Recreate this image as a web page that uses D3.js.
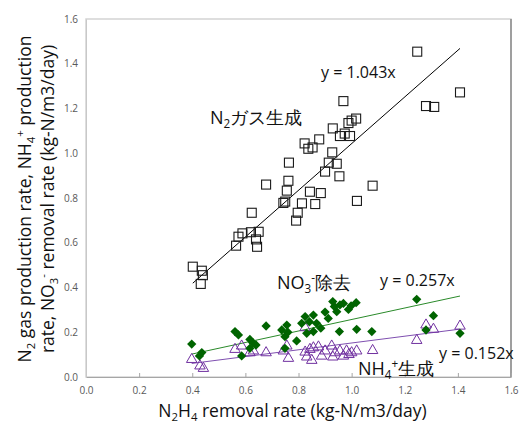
<!DOCTYPE html>
<html>
<head>
<meta charset="utf-8">
<script src="https://cdn.jsdelivr.net/npm/d3@7"></script>
<style>
  body { margin: 0; background: #fff; }
  text { font-family: "Open Sans", "Noto Sans", sans-serif; }
</style>
</head>
<body>
<div class="chart"></div>
<script>
// N2 gas production (open squares)
var n2X = [1.247, 1.408, 1.280, 1.311, 0.969, 1.017, 1.000, 0.988, 0.929, 0.974, 0.994, 0.956,
    0.823, 0.878, 0.853, 0.837, 0.927, 0.914, 0.944, 0.764, 0.900, 0.954, 0.762, 0.678, 0.756,
    0.843, 0.884, 1.079, 1.020, 0.743, 0.750, 0.813, 0.863, 0.797, 0.791, 0.624, 0.650, 0.621,
    0.589, 0.574, 0.565, 0.644, 0.640, 0.402, 0.436, 0.440, 0.432]
var n2Y = [1.454, 1.272, 1.211, 1.207, 1.233, 1.155, 1.146, 1.135, 1.111, 1.088, 1.077, 1.077,
    1.044, 1.062, 1.026, 1.020, 1.004, 0.958, 0.953, 0.958, 0.918, 0.897, 0.877, 0.860, 0.833,
    0.828, 0.822, 0.855, 0.787, 0.778, 0.784, 0.776, 0.773, 0.734, 0.699, 0.734, 0.649, 0.647,
    0.642, 0.627, 0.587, 0.582, 0.615, 0.493, 0.475, 0.455, 0.416]

// NO3- removal (filled diamonds)
var no3X = [1.245, 1.308, 1.280, 1.408, 1.017, 0.969, 0.988, 0.956, 0.929, 0.944, 0.998, 0.912,
    0.856, 0.825, 0.841, 0.812, 0.868, 0.884, 0.856, 0.831, 0.954, 1.019, 1.076, 0.756, 0.737,
    0.749, 0.793, 0.760, 0.749, 0.678, 0.561, 0.574, 0.617, 0.628, 0.640, 0.617, 0.586, 0.398,
    0.436, 0.427, 0.935, 0.900]
var no3Y = [0.347, 0.274, 0.210, 0.195, 0.332, 0.329, 0.302, 0.322, 0.337, 0.292, 0.318, 0.262,
    0.277, 0.270, 0.247, 0.240, 0.240, 0.218, 0.203, 0.195, 0.203, 0.213, 0.203, 0.232, 0.210,
    0.180, 0.161, 0.200, 0.128, 0.228, 0.203, 0.188, 0.168, 0.153, 0.143, 0.128, 0.094, 0.147,
    0.109, 0.094, 0.315, 0.290]

// NH4+ production (open triangles)
var nh4X = [1.408, 1.280, 1.308, 1.245, 1.079, 1.019, 1.000, 0.981, 0.956, 0.938, 0.925, 0.900,
    0.875, 0.856, 0.843, 0.825, 0.831, 0.850, 0.887, 0.929, 0.969, 0.990, 0.756, 0.743, 0.762,
    0.825, 0.678, 0.561, 0.586, 0.630, 0.617, 0.398, 0.429, 0.442]
var nh4Y = [0.232, 0.237, 0.218, 0.168, 0.123, 0.121, 0.113, 0.121, 0.121, 0.113, 0.143, 0.121,
    0.139, 0.135, 0.128, 0.116, 0.094, 0.079, 0.098, 0.094, 0.098, 0.105, 0.143, 0.121, 0.088,
    0.225, 0.113, 0.128, 0.143, 0.121, 0.113, 0.083, 0.054, 0.043]

var slopes = [1.043, 0.257, 0.152]
var xTicks = [0, 0.2, 0.4, 0.6, 0.8, 1.0, 1.2, 1.4, 1.6]
var yTicks = [0, 0.2, 0.4, 0.6, 0.8, 1.0, 1.2, 1.4, 1.6]

var svgWidth = 521
var svgHeight = 423

var margin = {
    top: 19,
    bottom: 46,
    right: 10,
    left: 86
}

var height = svgHeight - margin.top - margin.bottom
var width = svgWidth - margin.left - margin.right

var svg = d3.select('.chart')
    .append('svg')
    .attr('width', svgWidth)
    .attr('height', svgHeight)

var chartGroup = svg.append('g')
    .attr('transform', `translate(${margin.left}, ${margin.top})`)

var x = d3.scaleLinear().domain([0, 1.6]).range([0, width])
var y = d3.scaleLinear().domain([0, 1.6]).range([height, 0])

// plot area border
chartGroup.append('rect')
    .attr('width', width)
    .attr('height', height)
    .attr('fill', 'none')
    .attr('stroke', '#d4d4d4')
    .attr('stroke-width', 1.5)
chartGroup.append('line')
    .attr('x1', width).attr('x2', width)
    .attr('y1', 0).attr('y2', height)
    .attr('stroke', '#8a8a8a')
    .attr('stroke-width', 1.5)

// X axis
var xAxis = chartGroup.append('g')
    .attr('transform', `translate(0, ${height})`)
    .call(d3.axisBottom(x).tickValues(xTicks).tickFormat(d3.format('.1f'))
        .tickSizeInner(-4).tickSizeOuter(0).tickPadding(10))
xAxis.select('.domain').attr('stroke', '#a6a6a6')
xAxis.selectAll('.tick line').attr('stroke', '#a6a6a6')
xAxis.selectAll('text').attr('fill', '#595959').attr('font-size', '10px')

// Y axis
var yAxis = chartGroup.append('g')
    .call(d3.axisLeft(y).tickValues(yTicks).tickFormat(d3.format('.1f'))
        .tickSize(0).tickPadding(8))
yAxis.select('.domain').attr('stroke', '#c8c8c8')
yAxis.selectAll('text').attr('fill', '#595959').attr('font-size', '10px')

// trendlines
var lineColors = ['#000000', '#2a8a2a', '#7f4fb0']
var seriesX = [n2X, no3X, nh4X]
slopes.forEach((k, i) => {
    var ext = d3.extent(seriesX[i])
    chartGroup.append('line')
        .attr('x1', x(ext[0])).attr('y1', y(k * ext[0]))
        .attr('x2', x(ext[1])).attr('y2', y(k * ext[1]))
        .attr('stroke', lineColors[i])
        .attr('stroke-width', 1)
})

// NH4+ triangles
var tri = d3.symbol().type(d3.symbolTriangle).size(48)
chartGroup.selectAll('.nh4')
    .data(nh4X)
    .enter()
    .append('path')
    .attr('d', tri)
    .attr('transform', (d, i) => `translate(${x(d)}, ${y(nh4Y[i]) + 1})`)
    .attr('fill', 'none')
    .attr('stroke', '#7030a0')
    .attr('stroke-width', 1)

// NO3- diamonds
var dia = d3.symbol().type(d3.symbolDiamond2).size(55)
chartGroup.selectAll('.no3')
    .data(no3X)
    .enter()
    .append('path')
    .attr('d', dia)
    .attr('transform', (d, i) => `translate(${x(d)}, ${y(no3Y[i])})`)
    .attr('fill', '#006400')

// N2 squares
chartGroup.selectAll('.n2')
    .data(n2X)
    .enter()
    .append('rect')
    .attr('x', d => x(d) - 4.5)
    .attr('y', (d, i) => y(n2Y[i]) - 4.5)
    .attr('width', 9)
    .attr('height', 9)
    .attr('fill', 'none')
    .attr('stroke', '#1a1a1a')
    .attr('stroke-width', 1.1)

// text with sub/superscripts: 'sub' drops 4, 'sup' jumps from sub level, 'back' resets by dy
var jp = '"Noto Sans CJK JP", sans-serif'
function subText(g, parts, size) {
    parts.forEach(p => {
        var t = g.append('tspan').text(p[0])
        if (p[1] === 'sub') t.attr('font-size', size * 0.65).attr('dy', 4)
        if (p[1] === 'sup') t.attr('font-size', size * 0.65).attr('dy', p[2])
        if (p[1] === 'back') t.attr('dy', p[2])
    })
}

var lab1 = svg.append('text').attr('x', 210).attr('y', 124).attr('font-size', '18px')
    .attr('font-family', jp).attr('fill', '#111')
subText(lab1, [['N'], ['2', 'sub'], ['ガス生成', 'back', -4]], 18)

var lab2 = svg.append('text').attr('x', 277).attr('y', 289).attr('font-size', '18px')
    .attr('font-family', jp).attr('fill', '#111')
subText(lab2, [['NO'], ['3', 'sub'], ['-', 'sup', -11], ['除去', 'back', 7]], 18)

var lab3 = svg.append('text').attr('x', 358).attr('y', 375).attr('font-size', '18px')
    .attr('font-family', jp).attr('fill', '#111')
subText(lab3, [['NH'], ['4', 'sub'], ['+', 'sup', -11], ['生成', 'back', 7]], 18)

svg.append('text').attr('x', 321).attr('y', 78).attr('font-size', '16px').attr('fill', '#111')
    .text('y = 1.043x')
svg.append('text').attr('x', 380).attr('y', 286).attr('font-size', '16px').attr('fill', '#111')
    .text('y = 0.257x')
svg.append('text').attr('x', 439).attr('y', 359).attr('font-size', '16px').attr('fill', '#111')
    .text('y = 0.152x')

// X label
var xl = svg.append('text')
    .attr('transform', `translate(${margin.left + width / 2 - 6}, 417)`)
    .attr('text-anchor', 'middle')
    .attr('font-size', '17.5px')
    .attr('fill', '#111')
subText(xl, [['N'], ['2', 'sub'], ['H', 'back', -4], ['4', 'sub'], [' removal rate (kg-N/m3/day)', 'back', -4]], 17.5)

// Y label
var yl = svg.append('text')
    .attr('transform', `translate(0, 199) rotate(-90)`)
    .attr('text-anchor', 'middle')
    .attr('font-size', '17.5px')
    .attr('fill', '#111')
var yl1 = yl.append('tspan').attr('x', 0).attr('y', 31)
subText(yl1, [['N'], ['2', 'sub'], [' gas production rate, NH', 'back', -4], ['4', 'sub'], ['+', 'sup', -11], [' production', 'back', 7]], 17.5)
var yl2 = yl.append('tspan').attr('x', 0).attr('y', 54)
subText(yl2, [['rate, NO'], ['3', 'sub'], ['-', 'sup', -11], [' removal rate (kg-N/m3/day)', 'back', 7]], 17.5)
</script>
</body>
</html>
